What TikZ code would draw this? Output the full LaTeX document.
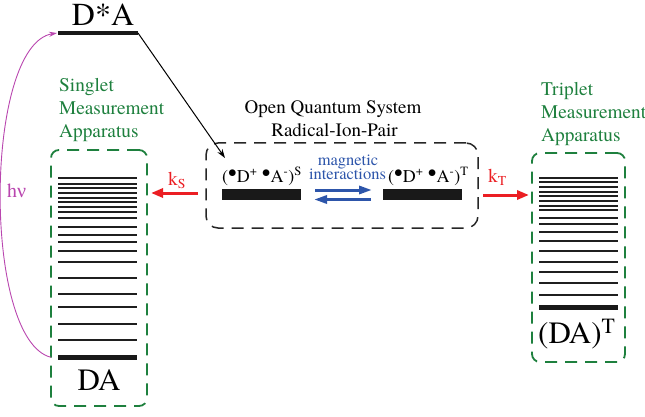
\documentclass[tikz,border=0pt]{standalone}
\usepackage{fontspec}
\setmainfont{TeX Gyre Termes}
\newfontfamily\greekfont{Liberation Serif}
\usetikzlibrary{arrows.meta}
\definecolor{mgreen}{RGB}{30,128,62}
\definecolor{mred}{RGB}{235,30,35}
\definecolor{mblue}{RGB}{45,85,170}
\definecolor{mmag}{RGB}{185,70,175}
\newcommand{\rdot}{\raisebox{0.5ex}{$\bullet$}}
\newcommand{\radpair}[1]{(\rdot D\textsuperscript{+} \rdot A\textsuperscript{-})\textsuperscript{#1}}
\begin{document}
\begin{tikzpicture}[x=1pt,y=-1pt,
  lvl/.style={line width=2pt, draw=black!88},
  barnode/.style={rectangle, fill=black!90, inner sep=0pt, outer sep=0pt},
  gbox/.style={rectangle, draw=mgreen, line width=1.8pt, dash pattern=on 12pt off 8pt, rounded corners=8pt, inner sep=0pt},
  bbox/.style={rectangle, draw=black!85, line width=1.5pt, dash pattern=on 12pt off 8pt, rounded corners=12pt, inner sep=0pt},
  gtxt/.style={text=mgreen, font=\fontsize{19.3}{22}\selectfont, inner sep=0pt, anchor=base west},
  btxt/.style={font=\fontsize{19}{22}\selectfont, inner sep=0pt, anchor=base},
  lbl/.style={font=\fontsize{18}{22}\selectfont, inner sep=0pt, anchor=base west},
  bigtxt/.style={font=\fontsize{31}{34}\selectfont, inner sep=0pt},
  redarrow/.style={draw=mred, line width=3pt, -{Triangle[length=12pt,width=9pt]}},
  bluearrow/.style={draw=mblue, line width=3pt, -{Triangle[length=13pt,width=8pt]}},
  ktxt/.style={text=mred, font=\fontsize{19.5}{22}\selectfont, inner sep=0pt, anchor=base west},
  magtxt/.style={text=mblue, font=\fontsize{16.5}{18}\selectfont, inner sep=0pt, anchor=base}
]
\useasboundingbox (0,0) rectangle (645,417);

% boxes
\node[gbox, minimum width=96pt, minimum height=256pt] (sbox) at (99,278) {};
\node[gbox, minimum width=93pt, minimum height=209pt] (tbox) at (578.5,257.5) {};
\node[bbox, minimum width=272pt, minimum height=85pt] (rip) at (342,185.5) {};

% D*A
\node[barnode, minimum width=80pt, minimum height=4pt] (dastar) at (98,33) {};
\node[bigtxt, anchor=base] (dastartxt) at (103,26) {\fontsize{32}{34}\selectfont D*A};

% singlet levels
\foreach \y in {178.3,183.7,188.3,193,197.7,202.3,207,211.7,218.3,226.7,234.7,242.3,251,261.7,278,294,307,324,340}
  \draw[lvl] (58,\y) -- (137,\y);
\node[barnode, minimum width=79pt, minimum height=5.5pt] (sground) at (97.5,357.3) {};
\node[bigtxt, anchor=base] (datxt) at (99,390) {DA};

% triplet levels
\foreach \y in {177.7,182.3,187,191.7,196.3,201,205.7,210.3,217.7,224.3,231.7,241.3,251,262.3,272.3,282.7,294.7}
  \draw[lvl] (539,\y) -- (618,\y);
\node[barnode, minimum width=79pt, minimum height=5.5pt] (tground) at (578.5,307.3) {};
\node[bigtxt, anchor=base west] (tdatxt) at (538,343) {(DA)\textsuperscript{T}};

% green titles
\node[gtxt] (s1) at (59,92) {Singlet};
\node[gtxt] (s2) at (59,115) {Measurement};
\node[gtxt] (s3) at (59,137.5) {Apparatus};
\node[gtxt] (t1) at (541,95.5) {Triplet};
\node[gtxt] (t2) at (541,118.5) {Measurement};
\node[gtxt] (t3) at (541,141.5) {Apparatus};

% center title
\node[btxt] (oqs) at (333,114) {Open Quantum System};
\node[btxt] (rip2) at (334.5,137) {Radical-Ion-Pair};

% radical pair bars
\node[barnode, minimum width=79pt, minimum height=11pt] (sbar) at (261.5,194.5) {};
\node[barnode, minimum width=79pt, minimum height=11pt] (tbar) at (422.5,194.5) {};
\node[lbl] (slbl) at (222,182) {\radpair{S}};
\node[lbl] (tlbl) at (388,182) {\radpair{T}};

% magnetic interactions
\node[magtxt] (mag1) at (348,165.6) {magnetic};
\node[magtxt] (mag2) at (347.5,179.5) {interactions};
\coordinate (bu1) at (315,190);
\coordinate (bu2) at (372,190);
\coordinate (bl1) at (371,199.5);
\coordinate (bl2) at (314,199.5);
\draw[bluearrow] (bu1) -- (bu2);
\draw[bluearrow] (bl1) -- (bl2);

% rates
\coordinate (kSs) at (198,193);
\coordinate (kSe) at (151,193);
\draw[redarrow] (kSs) -- (kSe);
\node[ktxt] (ks) at (168,185.5) {k\textsubscript{S}};
\coordinate (kTs) at (483,195);
\coordinate (kTe) at (529,195);
\draw[redarrow] (kTs) -- (kTe);
\node[ktxt] (kt) at (488,182) {k\textsubscript{T}};

% intersystem arrow
\coordinate (ripin) at (225,158);
\draw[line width=1pt, -{Stealth[length=9pt,width=6pt]}] (dastar.east) -- (ripin);

% photon excitation
\draw[draw=mmag, line width=0.9pt, -{Stealth[length=8pt,width=5pt]}]
  ([xshift=-7pt]sground.west) .. controls (-18,340) and (-16,45) .. ([xshift=-1pt]dastar.west);
\node[text=mmag, font=\fontsize{20}{22}\selectfont, inner sep=0pt, anchor=base west] (hnu) at (7,197) {h{\greekfont ν}};
\end{tikzpicture}
\end{document}
